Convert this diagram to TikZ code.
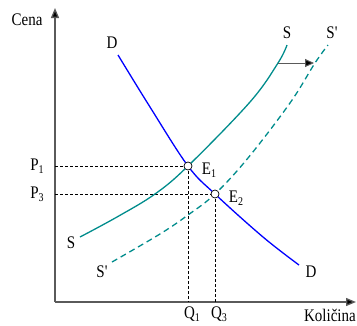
\documentclass[tikz,border=0pt]{standalone}
\usepackage{fontspec}
\usepackage{graphicx}
\setmainfont{Liberation Serif}
\usetikzlibrary{arrows.meta}
\definecolor{teal1}{RGB}{0,140,140}
\definecolor{axisgray}{RGB}{90,90,90}
\newcommand\lbl[1]{\scalebox{1}[1.18]{#1}}
\newcommand\sbs[1]{\raisebox{-0.35ex}{\fontsize{10}{10}\selectfont #1}}
\begin{document}
\begin{tikzpicture}[x=1pt,y=-1pt,
  lab/.style={inner sep=0pt,font=\fontsize{15}{15}\selectfont},
  axisline/.style={draw=axisgray,line width=1.3pt},
  guide/.style={draw=black,line width=0.6pt,dash pattern=on 3pt off 2pt},
  dcurve/.style={draw=blue,line width=1.3pt},
  scurve/.style={draw=teal1,line width=1.3pt},
  sdash/.style={draw=teal1,line width=1.3pt,dash pattern=on 6pt off 4pt},
  eqpt/.style={circle,draw=black,fill=white,line width=0.7pt,inner sep=0pt,minimum size=8pt}]
\useasboundingbox (0,0) rectangle (357,325);
% axes
\coordinate (O) at (55,302);
\coordinate (ytop) at (55,8);
\coordinate (xend) at (356,302);
\draw[axisline,-{Triangle[length=10pt,width=8pt,fill=black]}] (O) -- (ytop);
\draw[axisline,-{Triangle[length=10pt,width=8pt,fill=black]}] (O) -- (xend);
% equilibrium points
\coordinate (E1c) at (188,166);
\coordinate (E2c) at (215,194);
\coordinate (P1c) at (55,166);
\coordinate (P3c) at (55,194);
\coordinate (Q1c) at (188,302);
\coordinate (Q3c) at (215,302);
% guides
\draw[guide] (P1c) -- (E1c);
\draw[guide] (P3c) -- (E2c);
\draw[guide] (E1c) -- (Q1c);
\draw[guide] (E2c) -- (Q3c);
% curves
\draw[sdash] plot[smooth,tension=0.6] coordinates {(112,262) (160,234) (188,215) (215,194) (248,158) (290,103) (315,63) (328,45)};
\draw[scurve] plot[smooth,tension=0.6] coordinates {(80,237) (117,217) (155,194) (188,166) (250,102) (278,63) (287,45)};
\draw[dcurve] plot[smooth,tension=0.6] coordinates {(118,55) (150,107) (188,166) (215,194) (263,237) (299,265)};
% shift arrow
\coordinate (as) at (278,63);
\coordinate (ae) at (314,63);
\draw[draw=axisgray,line width=1pt,-{Triangle[length=9pt,width=8pt,fill=black]}] (as) -- (ae);
% points
\node[eqpt] (E1) at (E1c) {};
\node[eqpt] (E2) at (E2c) {};
% labels
\node[lab] (cena) at (27,20) {\lbl{Cena}};
\node[lab] (dtop) at (112,43) {\lbl{D}};
\node[lab] (dbot) at (311,272) {\lbl{D}};
\node[lab] (stop) at (287,33) {\lbl{S}};
\node[lab] (sptop) at (332,33) {\lbl{S\textquotesingle}};
\node[lab] (sbot) at (71,243) {\lbl{S}};
\node[lab] (spbot) at (102,272) {\lbl{S\textquotesingle}};
\node[lab] (p1) at (37,166) {\lbl{P\sbs{1}}};
\node[lab] (p3) at (37,194) {\lbl{P\sbs{3}}};
\node[lab] (e1l) at (209,170) {\lbl{E\sbs{1}}};
\node[lab] (e2l) at (236,198) {\lbl{E\sbs{2}}};
\node[lab] (q1) at (192,314) {\lbl{Q\sbs{1}}};
\node[lab] (q3) at (219,314) {\lbl{Q\sbs{3}}};
\node[lab,anchor=east] (kol) at (356,315) {\lbl{Količina}};
\end{tikzpicture}
\end{document}
